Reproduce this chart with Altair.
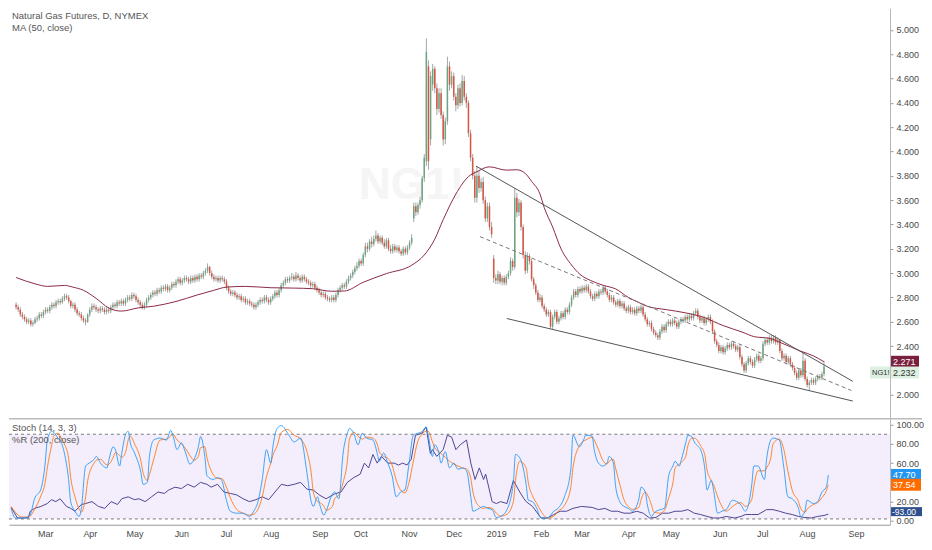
import altair as alt
import pandas as pd

FONT = "Liberation Sans"
UP, DOWN = "#6ba583", "#d75442"
MA_C = "#8c2a45"

# ---------------- daily candles (bar index 0 = first visible session) ----------------
opens = [
2.74,2.72,2.70,2.66,2.64,2.62,2.60,2.61,2.58,2.59,
2.62,2.63,2.66,2.65,2.68,2.70,2.69,2.72,2.74,2.73,
2.76,2.77,2.76,2.79,2.81,2.80,2.77,2.73,2.74,2.70,
2.67,2.66,2.63,2.61,2.60,2.66,2.70,2.73,2.72,2.70,
2.69,2.71,2.70,2.68,2.70,2.69,2.72,2.74,2.73,2.76,
2.75,2.77,2.75,2.78,2.80,2.79,2.82,2.81,2.78,2.76,
2.74,2.72,2.74,2.78,2.80,2.82,2.84,2.83,2.86,2.85,
2.88,2.87,2.89,2.86,2.88,2.91,2.90,2.93,2.95,2.92,
2.94,2.96,2.95,2.93,2.96,2.94,2.97,2.95,2.98,2.97,
3.00,3.02,3.05,3.00,2.97,2.95,2.96,2.94,2.96,2.95,
2.93,2.88,2.85,2.83,2.84,2.82,2.80,2.81,2.78,2.79,
2.76,2.77,2.75,2.74,2.72,2.74,2.76,2.78,2.77,2.80,
2.78,2.76,2.79,2.81,2.84,2.82,2.86,2.90,2.92,2.95,
2.94,2.96,2.97,2.95,2.98,2.96,2.94,2.97,2.95,2.93,
2.92,2.90,2.91,2.88,2.86,2.84,2.82,2.83,2.80,2.79,
2.78,2.80,2.78,2.82,2.86,2.88,2.90,2.89,2.93,2.96,
2.98,3.01,3.04,3.06,3.10,3.08,3.15,3.22,3.20,3.26,
3.24,3.28,3.31,3.26,3.29,3.25,3.22,3.27,3.20,3.18,
3.22,3.19,3.21,3.18,3.16,3.20,3.17,3.21,3.25,3.45,
3.55,3.50,3.56,3.60,3.78,3.92,4.70,4.10,4.55,4.68,
4.52,4.35,4.48,4.30,4.10,4.25,4.70,4.55,4.62,4.45,
4.38,4.52,4.40,4.58,4.45,4.40,4.15,3.95,3.80,3.62,
3.80,3.70,3.75,3.60,3.45,3.55,3.38,3.12,2.96,2.94,
2.99,2.93,2.96,2.92,2.97,3.00,3.10,3.05,3.62,3.50,
3.58,3.38,3.15,3.02,3.14,3.10,2.95,2.90,2.84,2.78,
2.80,2.73,2.70,2.66,2.68,2.56,2.64,2.68,2.60,2.63,
2.67,2.64,2.70,2.68,2.74,2.80,2.85,2.82,2.87,2.85,
2.88,2.86,2.89,2.85,2.81,2.79,2.83,2.81,2.85,2.84,
2.88,2.85,2.82,2.78,2.80,2.76,2.74,2.77,2.73,2.75,
2.71,2.69,2.72,2.68,2.70,2.67,2.71,2.69,2.72,2.66,
2.62,2.58,2.59,2.54,2.51,2.49,2.47,2.52,2.56,2.53,
2.58,2.60,2.58,2.61,2.59,2.56,2.60,2.62,2.61,2.64,
2.62,2.65,2.63,2.67,2.69,2.64,2.61,2.63,2.59,2.62,
2.64,2.60,2.52,2.44,2.41,2.36,2.39,2.35,2.38,2.41,
2.39,2.42,2.40,2.37,2.39,2.31,2.25,2.20,2.26,2.30,
2.27,2.24,2.29,2.32,2.28,2.30,2.42,2.45,2.43,2.47,
2.44,2.47,2.43,2.45,2.36,2.30,2.32,2.27,2.30,2.25,
2.22,2.18,2.14,2.20,2.16,2.28,2.13,2.08,2.10,2.12,
2.10,2.13,2.15,2.14,2.17]

highs = [
2.76,2.74,2.72,2.68,2.66,2.64,2.63,2.63,2.61,2.64,
2.65,2.68,2.68,2.70,2.72,2.72,2.74,2.76,2.76,2.78,
2.79,2.79,2.81,2.83,2.83,2.82,2.78,2.76,2.76,2.72,
2.69,2.68,2.65,2.63,2.67,2.72,2.75,2.75,2.74,2.72,
2.73,2.73,2.72,2.72,2.72,2.74,2.76,2.76,2.78,2.78,
2.79,2.79,2.80,2.82,2.82,2.84,2.84,2.83,2.80,2.78,
2.76,2.76,2.80,2.82,2.84,2.86,2.86,2.88,2.88,2.90,
2.90,2.91,2.91,2.90,2.93,2.93,2.95,2.97,2.97,2.96,
2.98,2.98,2.97,2.98,2.98,2.99,2.99,3.00,3.00,3.02,
3.04,3.08,3.06,3.02,2.99,2.98,2.98,2.98,2.98,2.97,
2.95,2.90,2.87,2.86,2.86,2.84,2.83,2.83,2.81,2.81,
2.79,2.79,2.77,2.76,2.76,2.78,2.80,2.80,2.82,2.82,
2.80,2.81,2.83,2.86,2.86,2.88,2.92,2.94,2.97,2.97,
2.98,3.00,2.99,3.01,3.00,2.98,2.99,2.99,2.97,2.95,
2.94,2.93,2.93,2.90,2.88,2.86,2.85,2.85,2.82,2.81,
2.82,2.82,2.84,2.88,2.90,2.92,2.92,2.95,2.98,3.00,
3.03,3.06,3.09,3.12,3.12,3.17,3.25,3.25,3.28,3.30,
3.31,3.35,3.33,3.31,3.31,3.28,3.29,3.29,3.23,3.24,
3.24,3.23,3.23,3.20,3.22,3.22,3.23,3.27,3.32,3.58,
3.58,3.58,3.63,3.80,3.98,4.93,4.75,4.66,4.72,4.70,
4.56,4.52,4.52,4.33,4.28,4.78,4.74,4.66,4.65,4.48,
4.55,4.56,4.63,4.62,4.48,4.42,4.18,3.98,3.84,3.88,
3.84,3.78,3.79,3.63,3.58,3.58,3.42,3.15,2.99,3.02,
3.01,2.98,2.98,2.99,3.02,3.13,3.12,3.70,3.66,3.61,
3.60,3.40,3.18,3.17,3.16,3.12,2.97,2.92,2.86,2.83,
2.82,2.75,2.72,2.70,2.70,2.66,2.70,2.70,2.65,2.69,
2.69,2.72,2.72,2.76,2.82,2.87,2.87,2.89,2.89,2.90,
2.90,2.91,2.91,2.87,2.83,2.85,2.85,2.87,2.87,2.90,
2.90,2.87,2.84,2.82,2.82,2.78,2.79,2.79,2.77,2.77,
2.73,2.74,2.74,2.72,2.72,2.73,2.73,2.74,2.74,2.68,
2.64,2.61,2.61,2.56,2.53,2.51,2.54,2.58,2.58,2.60,
2.62,2.62,2.63,2.63,2.61,2.62,2.64,2.64,2.66,2.66,
2.67,2.67,2.69,2.71,2.71,2.66,2.65,2.65,2.64,2.66,
2.66,2.62,2.54,2.46,2.43,2.41,2.41,2.40,2.43,2.43,
2.44,2.44,2.42,2.41,2.41,2.33,2.27,2.28,2.32,2.32,
2.29,2.31,2.34,2.34,2.32,2.44,2.47,2.47,2.49,2.49,
2.49,2.49,2.47,2.46,2.38,2.34,2.34,2.32,2.32,2.27,
2.24,2.20,2.22,2.22,2.35,2.30,2.15,2.12,2.14,2.14,
2.15,2.17,2.17,2.19,2.28]

lows = [
2.70,2.68,2.64,2.62,2.60,2.58,2.58,2.56,2.56,2.58,
2.60,2.61,2.63,2.63,2.66,2.67,2.67,2.70,2.71,2.71,
2.74,2.74,2.75,2.77,2.78,2.75,2.71,2.71,2.68,2.65,
2.64,2.61,2.59,2.57,2.59,2.64,2.68,2.70,2.68,2.67,
2.67,2.68,2.66,2.66,2.67,2.67,2.70,2.71,2.71,2.73,
2.73,2.73,2.73,2.76,2.77,2.77,2.79,2.76,2.74,2.72,
2.70,2.70,2.72,2.76,2.78,2.80,2.81,2.81,2.83,2.83,
2.85,2.85,2.84,2.84,2.86,2.88,2.88,2.91,2.90,2.90,
2.92,2.93,2.91,2.91,2.92,2.92,2.93,2.93,2.95,2.95,
2.98,3.00,2.98,2.95,2.93,2.93,2.92,2.92,2.93,2.91,
2.86,2.83,2.81,2.81,2.80,2.78,2.78,2.76,2.76,2.74,
2.74,2.73,2.72,2.70,2.70,2.72,2.74,2.75,2.75,2.76,
2.74,2.74,2.77,2.79,2.80,2.80,2.84,2.88,2.90,2.92,
2.92,2.94,2.93,2.93,2.94,2.92,2.92,2.93,2.91,2.90,
2.88,2.88,2.86,2.84,2.82,2.80,2.80,2.78,2.77,2.76,
2.76,2.76,2.76,2.80,2.84,2.86,2.87,2.87,2.91,2.94,
2.96,2.99,3.02,3.04,3.06,3.06,3.13,3.17,3.18,3.21,
3.22,3.26,3.24,3.24,3.23,3.20,3.20,3.18,3.16,3.16,
3.17,3.17,3.16,3.14,3.14,3.15,3.15,3.19,3.23,3.42,
3.47,3.48,3.53,3.58,3.75,3.88,3.85,4.05,4.50,4.48,
4.30,4.32,4.27,4.05,4.06,4.22,4.50,4.52,4.42,4.33,
4.35,4.37,4.38,4.42,4.36,4.12,3.92,3.77,3.58,3.58,
3.66,3.67,3.57,3.42,3.42,3.35,3.29,2.92,2.91,2.91,
2.91,2.90,2.90,2.90,2.95,2.98,3.02,3.03,3.46,3.47,
3.35,3.12,2.99,3.00,3.07,2.93,2.87,2.82,2.76,2.76,
2.71,2.68,2.64,2.64,2.54,2.54,2.62,2.58,2.58,2.61,
2.62,2.62,2.66,2.66,2.72,2.78,2.80,2.80,2.83,2.83,
2.84,2.84,2.83,2.79,2.77,2.77,2.79,2.79,2.82,2.82,
2.83,2.80,2.76,2.76,2.74,2.72,2.72,2.71,2.71,2.69,
2.67,2.67,2.66,2.66,2.65,2.65,2.67,2.67,2.64,2.60,
2.56,2.56,2.52,2.49,2.47,2.45,2.45,2.50,2.51,2.51,
2.56,2.56,2.56,2.57,2.54,2.54,2.58,2.59,2.59,2.60,
2.60,2.61,2.61,2.65,2.62,2.59,2.59,2.57,2.57,2.60,
2.58,2.50,2.42,2.39,2.34,2.34,2.33,2.33,2.36,2.37,
2.37,2.38,2.35,2.35,2.29,2.23,2.18,2.18,2.24,2.25,
2.22,2.22,2.27,2.26,2.26,2.28,2.40,2.41,2.41,2.42,
2.42,2.41,2.41,2.34,2.28,2.28,2.25,2.25,2.23,2.20,
2.16,2.12,2.12,2.14,2.14,2.11,2.06,2.03,2.08,2.08,
2.08,2.11,2.12,2.12,2.15]

closes = [
2.72,2.70,2.66,2.64,2.62,2.60,2.61,2.58,2.59,2.62,
2.63,2.66,2.65,2.68,2.70,2.69,2.72,2.74,2.73,2.76,
2.77,2.76,2.79,2.81,2.80,2.77,2.73,2.74,2.70,2.67,
2.66,2.63,2.61,2.60,2.66,2.70,2.73,2.72,2.70,2.69,
2.71,2.70,2.68,2.70,2.69,2.72,2.74,2.73,2.76,2.75,
2.77,2.75,2.78,2.80,2.79,2.82,2.81,2.78,2.76,2.74,
2.72,2.74,2.78,2.80,2.82,2.84,2.83,2.86,2.85,2.88,
2.87,2.89,2.86,2.88,2.91,2.90,2.93,2.95,2.92,2.94,
2.96,2.95,2.93,2.96,2.94,2.97,2.95,2.98,2.97,3.00,
3.02,3.05,3.00,2.97,2.95,2.96,2.94,2.96,2.95,2.93,
2.88,2.85,2.83,2.84,2.82,2.80,2.81,2.78,2.79,2.76,
2.77,2.75,2.74,2.72,2.74,2.76,2.78,2.77,2.80,2.78,
2.76,2.79,2.81,2.84,2.82,2.86,2.90,2.92,2.95,2.94,
2.96,2.97,2.95,2.98,2.96,2.94,2.97,2.95,2.93,2.92,
2.90,2.91,2.88,2.86,2.84,2.82,2.83,2.80,2.79,2.78,
2.80,2.78,2.82,2.86,2.88,2.90,2.89,2.93,2.96,2.98,
3.01,3.04,3.06,3.10,3.08,3.15,3.22,3.20,3.26,3.24,
3.28,3.31,3.26,3.29,3.25,3.22,3.27,3.20,3.18,3.22,
3.19,3.21,3.18,3.16,3.20,3.17,3.21,3.25,3.29,3.55,
3.50,3.56,3.60,3.78,3.95,4.82,3.92,4.62,4.68,4.52,
4.35,4.48,4.30,4.10,4.25,4.70,4.55,4.62,4.45,4.38,
4.52,4.40,4.58,4.45,4.40,4.15,3.95,3.80,3.62,3.80,
3.70,3.75,3.60,3.45,3.55,3.38,3.32,2.96,2.94,2.99,
2.93,2.96,2.92,2.97,3.00,3.10,3.05,3.62,3.50,3.58,
3.38,3.15,3.02,3.14,3.10,2.95,2.90,2.84,2.78,2.80,
2.73,2.70,2.66,2.68,2.56,2.64,2.68,2.60,2.63,2.67,
2.64,2.70,2.68,2.74,2.80,2.85,2.82,2.87,2.85,2.88,
2.86,2.89,2.85,2.81,2.79,2.83,2.81,2.85,2.84,2.88,
2.85,2.82,2.78,2.80,2.76,2.74,2.77,2.73,2.75,2.71,
2.69,2.72,2.68,2.70,2.67,2.71,2.69,2.72,2.66,2.62,
2.58,2.59,2.54,2.51,2.49,2.47,2.52,2.56,2.53,2.58,
2.60,2.58,2.61,2.59,2.56,2.60,2.62,2.61,2.64,2.62,
2.65,2.63,2.67,2.69,2.64,2.61,2.63,2.59,2.62,2.64,
2.60,2.52,2.44,2.41,2.36,2.39,2.35,2.38,2.41,2.39,
2.42,2.40,2.37,2.39,2.31,2.25,2.20,2.26,2.30,2.27,
2.24,2.29,2.32,2.28,2.30,2.42,2.45,2.43,2.47,2.44,
2.47,2.43,2.45,2.36,2.30,2.32,2.27,2.30,2.25,2.22,
2.18,2.14,2.20,2.16,2.28,2.13,2.08,2.10,2.12,2.10,
2.13,2.15,2.14,2.17,2.232]

# MA(50, close): (bar index, value)
ma50 = [(0,2.964),(9,2.912),(15,2.891),(23,2.899),(27,2.885),(32,2.859),(38,2.793),(44,2.714),
        (50,2.688),(58,2.714),(65,2.727),(76,2.767),(86,2.820),(94,2.859),(100,2.885),(109,2.891),
        (121,2.880),(132,2.877),(141,2.872),(150,2.851),(156,2.853),(165,2.925),(176,2.996),
        (188,3.065),(194,3.149),(199,3.28),(203,3.44),(209,3.65),(215,3.794),(219,3.834),
        (225,3.874),(233,3.847),(238,3.85),(242,3.82),(245,3.755),(249,3.65),(251,3.54),
        (255,3.38),(259,3.20),(264,3.067),(268,2.99),(273,2.94),(279,2.90),(285,2.87),
        (291,2.80),(295,2.767),(300,2.727),(309,2.70),(318,2.674),(327,2.635),(336,2.569),
        (345,2.516),(351,2.477),(358,2.464),(364,2.424),(373,2.358),(379,2.319),(384,2.271)]

# Drawn trend lines: (bar index, price)
trend_upper = [(218.6,3.88),(397.7,2.11)]
trend_lower = [(233.2,2.627),(397.7,1.948)]
trend_mid = [(220.5,3.30),(397.0,2.035)]

# Stoch (14,3,3) %K and %D, Williams %R(200)
stoch_k = [(0,13),(2,3),(5,3),(8,4),(9,6.5),(11,23),(14,33),(16,60),(17,84),(19,93),(20,92),(22,86),
 (23,84),(25,70.5),(27,43),(28,20),(30,10),(32,4.6),(33,13),(35,57),(36,59),(39,64),(40,67),(42,60),
 (45,55),(46,64),(48,77),(49,74),(51,57),(52,70.5),(54,91),(55,93),(56,81),(58,70.5),(61,50),(62,38),
 (64,40),(65,67),(67,84),(70,86),(73,84),(75,94),(76,89),(78,74),(80,81),(82,70.5),(84,59),(86,64),
 (88,77),(89,87.5),(91,67),(92,47),(95,43),(97,45),(99,42),(101,23),(103,10),(106,8),(109,8),
 (112,4.6),(114,10),(116,20),(118,43),(120,74),(122,60),(123,77),(125,96),(127,99),(130,91),(133,82),
 (136,86),(139,50),(141,20),(142,15),(144,25),(145,17),(147,6),(148,10),(151,28),(152,30),(154,23),
 (156,70.5),(158,91),(159,96),(161,91),(163,79),(165,91),(167,86),(170,84),(172,70.5),(173,62),
 (175,70.5),(177,60),(179,47),(181,25),(183,30),(185,32),(187,60),(189,89),(191,91),(193,92.5),
 (195,97.6),(196,89),(198,67),(199,79),(201,70.5),(202,60),(204,72),(206,55),(208,60),(210,53.6),
 (212,55),(214,52),(216,25),(217,10),(220,13),(222,15),(224,13),(226,11.7),(228,3.5),(230,4.6),
 (233,11.7),(236,40),(237,69),(239,65.5),(242,38),(243,21.5),(245,20),(247,13),(249,3),(252,3),
 (255,10),(257,13),(260,25),(263,53.6),(264,89),(267,77),(269,84),(270,89),(273,88),(274,74),(276,60),
 (278,57),(280,60),(281,67),(283,60),(284,36.7),(286,20),(288,15),(290,13),(292,10),(295,23),(296,35),
 (298,30),(299,16.4),(301,4.6),(302,8),(305,11.7),(307,13),(309,47),(311,57),(312,62),(314,57),
 (315,64),(317,81),(318,89),(320,87),(321,82),(323,77),(324,74),(326,53.6),(327,32),(329,42),(330,33),
 (332,8),(334,10),(336,11.7),(339,21.5),(341,20),(343,16.4),(345,10),(348,37),(349,57),(351,57),
 (354,43),(355,64),(357,84),(358,86),(361,84),(363,57),(365,25),(367,23),(370,13),(371,4.6),(373,10),
 (374,21.5),(377,18),(379,20),(381,30),(383,35),(384,47.70)]

stoch_d = [(0,15),(2,9),(5,4),(8,4),(9,5),(11,12),(14,26),(16,40),(17,55),(19,78),(20,88),(22,91),
 (23,88),(25,80),(27,65),(28,45),(30,25),(32,12),(33,9),(35,25),(36,42),(39,60),(40,63),(42,64),(45,58),
 (46,59),(48,66),(49,71),(51,68),(52,66),(54,73),(55,84),(56,88),(58,80),(61,62),(62,50),(64,42),(65,48),
 (67,64),(70,84),(73,85),(75,88),(76,90),(78,84),(80,80),(82,75),(84,68),(86,63),(88,67),(89,76),(91,77),
 (92,66),(95,48),(97,44),(99,44),(101,36),(103,24),(106,12),(109,8),(112,6),(114,7),(116,12),(118,25),
 (120,46),(122,60),(123,68),(125,78),(127,92),(130,95),(133,89),(136,85),(139,72),(141,50),(142,30),
 (144,20),(145,19),(147,15),(148,11),(151,15),(152,23),(154,27),(156,40),(158,62),(159,85),(161,92),
 (163,88),(165,85),(167,87),(170,86),(172,80),(173,72),(175,67),(177,65),(179,58),(181,42),(183,32),
 (185,29),(187,40),(189,62),(191,82),(193,90),(195,93),(196,93),(198,82),(199,76),(201,72),(202,70),
 (204,66),(206,62),(208,59),(210,57),(212,55),(214,54),(216,44),(217,30),(220,15),(222,13),(224,14),
 (226,13),(228,8),(230,5),(233,7),(236,20),(237,42),(239,62),(242,55),(243,40),(245,26),(247,18),
 (249,10),(252,3),(255,5),(257,10),(260,16),(263,35),(264,55),(267,78),(269,83),(270,84),(273,87),
 (274,84),(276,74),(278,63),(280,59),(281,62),(283,64),(284,55),(286,38),(288,22),(290,15),(292,12),
 (295,14),(296,22),(298,30),(299,27),(301,16),(302,9),(305,8),(307,11),(309,24),(311,40),(312,55),
 (314,59),(315,61),(317,67),(318,78),(320,86),(321,86),(323,82),(324,78),(326,68),(327,53),(329,42),
 (330,38),(332,25),(334,15),(336,10),(339,15),(341,18),(343,19),(345,15),(348,22),(349,36),(351,52),
 (354,52),(355,55),(357,66),(358,80),(361,85),(363,75),(365,52),(367,32),(370,20),(371,13),(373,9),
 (374,12),(377,17),(379,19),(381,24),(383,31),(384,37.54)]

williams_r = [(0,-86),(3,-97),(8,-97),(9,-90),(11,-87),(14,-85),(17,-82),(19,-78),(21,-80),(23,-77),
 (26,-85),(28,-87),(30,-90),(33,-83),(35,-82),(38,-80),(41,-85),(44,-87),(47,-80),(50,-83),(52,-77),
 (55,-75),(58,-78),(60,-77),(63,-80),(66,-75),(69,-70),(72,-71.5),(74,-68),(77,-65),(80,-66.4),(83,-62),
 (86,-65),(89,-60),(92,-62),(94,-65),(97,-62),(100,-70),(103,-71.5),(106,-73),(109,-77),(112,-80),
 (115,-78),(118,-75),(121,-78),(124,-70),(127,-62),(130,-63.5),(133,-62),(136,-60),(139,-67),(142,-68),
 (145,-73.4),(148,-77),(152,-72),(155,-70),(158,-60),(161,-55),(164,-51.5),(166,-40),(168,-45),
 (170,-31),(172,-40),(174,-33),(177,-40),(180,-40),(182,-42),(184,-40),(186,-42),(188,-36),(190,-11),
 (193,-9),(195,-2.4),(197,-30),(198,-26),(200,-33),(203,-26),(205,-11),(207,-13),(209,-26),(211,-21),
 (214,-16),(216,-40),(218,-57),(220,-45),(222,-57),(223,-51.5),(226,-80),(228,-82),(230,-80),(233,-82),
 (236,-58),(239,-70),(241,-77),(242,-80),(245,-85),(249,-97),(252,-97),(255,-93.4),(258,-90),(261,-90),
 (264,-87),(268,-85),(273,-86),(276,-88.3),(279,-87),(282,-90),(285,-90),(288,-92),(291,-92),(294,-90),
 (297,-92),(300,-97),(303,-96.5),(306,-92),(309,-92),(312,-90),(315,-90),(318,-88.3),(321,-92),
 (324,-93.4),(327,-95.4),(330,-97),(333,-97),(336,-95.4),(340,-97),(343,-95.4),(345,-93.4),(348,-93.4),
 (351,-93.4),(355,-88.3),(358,-88.3),(361,-90),(364,-92),(367,-93.4),(370,-95.4),(373,-96.5),(376,-97),
 (379,-95.4),(382,-94.4),(384,-93)]

band_levels = [2, 90]

month_idx = [16,37,58,80,101,122,145,164,187,208,228,249,268,290,310,333,353,374,397]
month_lbl = ["Mar","Apr","May","Jun","Jul","Aug","Sep","Oct","Nov","Dec","2019",
             "Feb","Mar","Apr","May","Jun","Jul","Aug","Sep"]
price_ticks = [2.0,2.4,2.6,2.8,3.0,3.2,3.4,3.6,3.8,4.0,4.2,4.4,4.6,4.8,5.0]
osc_ticks = [0,20,60,80,100]

# ---------------- build ----------------
W, H1, H2 = 882, 410, 106
n = min(len(opens), len(highs), len(lows), len(closes))
df = pd.DataFrame({"bar": list(range(n)), "open": opens[:n], "close": closes[:n],
                   "high": [max(highs[i], opens[i], closes[i]) for i in range(n)],
                   "low": [min(lows[i], opens[i], closes[i]) for i in range(n)]})
df["dir"] = ["up" if c >= o else "down" for o, c in zip(df["open"], df["close"])]

xs = alt.Scale(domain=[-1, 413], nice=False, zero=False)
ps = alt.Scale(domain=[1.81, 5.178], nice=False, zero=False)
os_ = alt.Scale(domain=[-4, 106], nice=False, zero=False)
ws = alt.Scale(domain=[-104, 6], nice=False, zero=False)

def yaxis(vals, fmt):
    return alt.Axis(orient="right", values=vals, format=fmt, title=None, grid=False, tickSize=3,
                    labelPadding=3, domainColor="#b5b5b5", tickColor="#9a9a9a",
                    labelColor="#4a4a4a", labelFontSize=9, labelFont=FONT, labelOverlap=False)

price_axis = yaxis(price_ticks, ".3f")
osc_axis = yaxis(osc_ticks, ".2f")
lbl_js = "[" + ",".join("'%s'" % s for s in month_lbl) + "]"
idx_js = "[" + ",".join(str(i) for i in month_idx) + "]"
x_axis = alt.Axis(values=month_idx, labelExpr=f"{lbl_js}[indexof({idx_js}, datum.value)]",
                  title=None, ticks=False, grid=False, domainColor="#9a9a9a", labelColor="#4a4a4a",
                  labelFontSize=9, labelFont=FONT, labelPadding=5, labelOverlap=False, labelFlush=False)

def pairs_df(pairs, col="v"):
    return pd.DataFrame({"bar": [p[0] for p in pairs], col: [p[1] for p in pairs]})

def tag(value, text, bg, fg, yscale, yaxis_, x0, x1, tx, off=0, size=9, half=6):
    d = pd.DataFrame({"v": [value], "t": [text]})
    b = alt.Chart(d)
    r = b.mark_rect(color=bg, yOffset=-half + off, y2Offset=half + off).encode(
        x=alt.value(x0), x2=alt.value(x1), y=alt.Y("v:Q", scale=yscale, axis=yaxis_), y2="v:Q")
    t = b.mark_text(color=fg, align="left", baseline="middle", fontSize=size, font=FONT, yOffset=off).encode(
        x=alt.value(tx), y=alt.Y("v:Q", scale=yscale, axis=yaxis_), text="t:N")
    return [r, t]

def label(text, y, size=9.5):
    return alt.Chart(pd.DataFrame({"t": [text]})).mark_text(
        align="left", baseline="middle", fontSize=size, font=FONT, color="#555555").encode(
        x=alt.value(3), y=alt.value(y), text="t:N")

X = alt.X("bar:Q", scale=xs, axis=None)
watermark = alt.Chart(pd.DataFrame({"t": ["NG1!"]})).mark_text(
    fontSize=44, font=FONT, fontWeight="bold", color="#f5f5f5", align="center", baseline="middle").encode(
    x=alt.value(403), y=alt.value(178), text="t:N")
wicks = alt.Chart(df).mark_rule(color="#a6a6a6", strokeWidth=1).encode(
    x=X, y=alt.Y("low:Q", scale=ps, axis=price_axis), y2="high:Q")
bodies = alt.Chart(df).mark_bar(size=1.5, strokeWidth=0).encode(
    x=X, y=alt.Y("open:Q", scale=ps, axis=price_axis), y2="close:Q",
    color=alt.Color("dir:N", scale=alt.Scale(domain=["up", "down"], range=[UP, DOWN]), legend=None))
ma_line = alt.Chart(pairs_df(ma50, "price")).mark_line(color=MA_C, strokeWidth=1, interpolate="monotone").encode(
    x=X, y=alt.Y("price:Q", scale=ps, axis=price_axis))

tdf = pd.concat([pairs_df(trend_upper, "price").assign(id="u"),
                 pairs_df(trend_lower, "price").assign(id="l")])
trend_solid = alt.Chart(tdf).mark_line(color="#555555", strokeWidth=1).encode(
    x=X, y=alt.Y("price:Q", scale=ps, axis=price_axis), detail="id:N")
trend_dash = alt.Chart(pairs_df(trend_mid, "price")).mark_line(color="#777777", strokeWidth=1, strokeDash=[4, 3]).encode(
    x=X, y=alt.Y("price:Q", scale=ps, axis=price_axis))

top_layers = [watermark, wicks, bodies, ma_line, trend_solid, trend_dash,
              label("Natural Gas Futures, D, NYMEX", 8), label("MA (50, close)", 20)]
top_layers += tag(ma50[-1][1], "%.3f" % ma50[-1][1], "#7a1f3d", "#ffffff", ps, price_axis, W + 1, W + 29, W + 3)
top_layers += tag(closes[n - 1], "NG1!", "#dcefe0", "#333333", ps, price_axis, W - 20, W, W - 18, off=6, size=7.5)
top_layers += tag(closes[n - 1], "%.3f" % closes[n - 1], "#dcefe0", "#333333", ps, price_axis, W + 1, W + 29, W + 3, off=6)
top = alt.layer(*top_layers).properties(width=W, height=H1)

# lower oscillator panel
XL = alt.X("bar:Q", scale=xs, axis=x_axis)
band = alt.Chart(pd.DataFrame({"lo": [band_levels[0]], "hi": [band_levels[1]]})).mark_rect(color="#f3edfc").encode(
    x=alt.value(0), x2=alt.value(W), y=alt.Y("hi:Q", scale=os_, axis=None), y2="lo:Q")
dash = alt.Chart(pd.DataFrame({"lvl": band_levels})).mark_rule(color="#7a7a7a", strokeDash=[3, 3], strokeWidth=1).encode(
    x=alt.value(0), x2=alt.value(W), y=alt.Y("lvl:Q", scale=os_, axis=None))
sep = alt.Chart(pd.DataFrame({"a": [0]})).mark_rule(color="#9a9a9a", strokeWidth=1).encode(
    x=alt.value(0), x2=alt.value(W + 32), y=alt.value(0))
wr_line = alt.Chart(pairs_df(williams_r)).mark_line(color="#4e4791", strokeWidth=1).encode(
    x=XL, y=alt.Y("v:Q", scale=ws, axis=None))
d_line = alt.Chart(pairs_df(stoch_d)).mark_line(color="#ff6d00", strokeWidth=1, interpolate="monotone", opacity=0.8).encode(
    x=XL, y=alt.Y("v:Q", scale=os_, axis=None))
k_line = alt.Chart(pairs_df(stoch_k)).mark_line(color="#2196f3", strokeWidth=1, interpolate="monotone", opacity=0.85).encode(
    x=XL, y=alt.Y("v:Q", scale=os_, axis=osc_axis))

low_layers = [band, dash, sep, wr_line, d_line, k_line, label("Stoch (14, 3, 3)", 9), label("%R (200, close)", 21)]
low_layers += tag(stoch_k[-1][1], "%.2f" % stoch_k[-1][1], "#2196f3", "#ffffff", os_, None, W + 1, W + 31, W + 3)
low_layers += tag(stoch_d[-1][1], "%.2f" % stoch_d[-1][1], "#ff6d00", "#ffffff", os_, None, W + 1, W + 31, W + 3)
low_layers += tag(williams_r[-1][1], "%.2f" % williams_r[-1][1], "#2e4f8c", "#ffffff", ws, None, W + 1, W + 32, W + 2,
                  off=-2.5, half=4.5, size=8.5)
lower = alt.layer(*low_layers).resolve_scale(y="independent").properties(width=W, height=H2)

chart = (alt.vconcat(top, lower, spacing=0)
         .properties(padding=0, background="#ffffff")
         .configure_view(stroke=None)
         .configure_axis(labelFont=FONT))

chart.save("out.html", embed_options={"renderer": "svg", "actions": False})
